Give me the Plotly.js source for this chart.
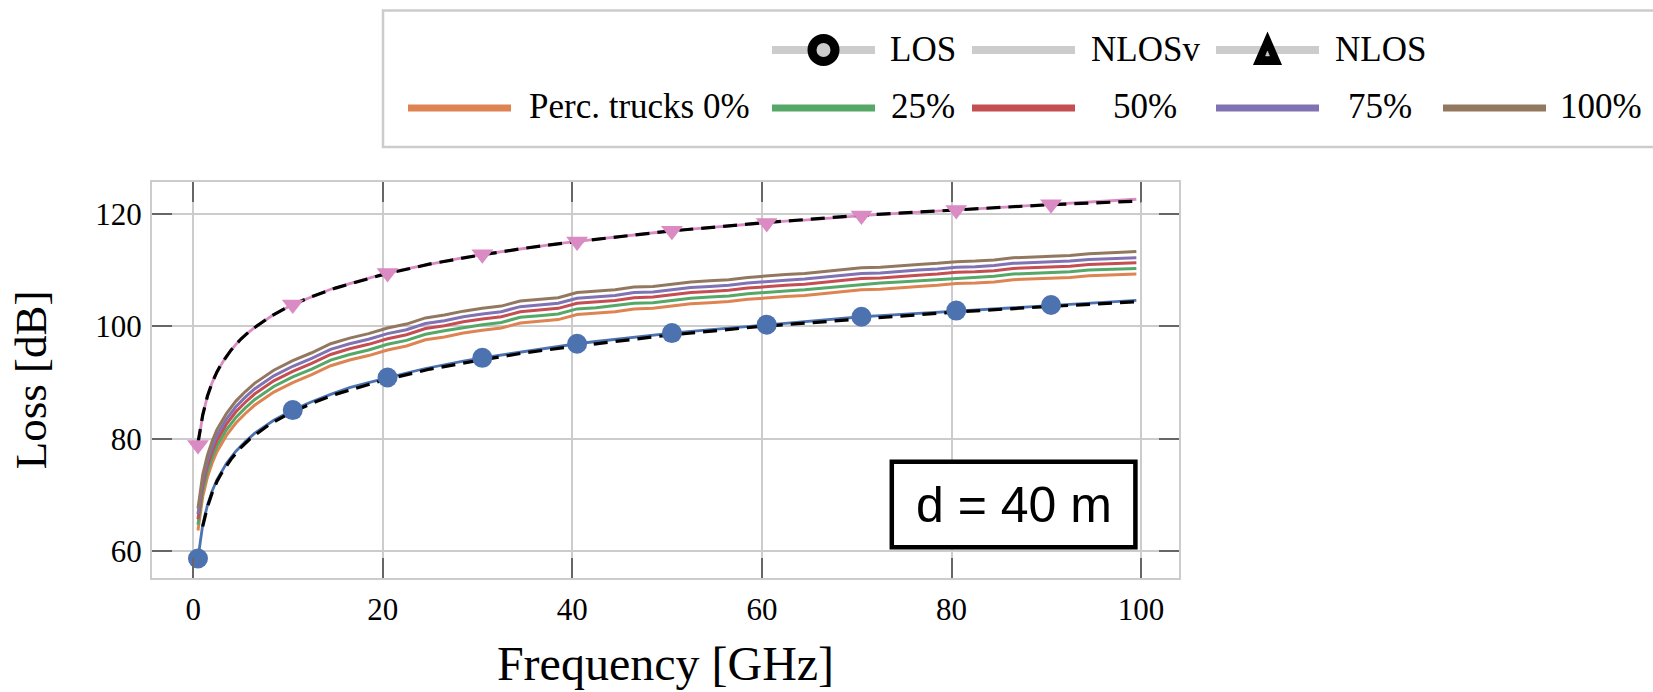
<!DOCTYPE html>
<html>
<head>
<meta charset="utf-8">
<script src="https://cdn.plot.ly/plotly-3.0.1.min.js"></script>
<style>
  html, body { margin: 0; padding: 0; background: #ffffff; }
  #chart { width: 1653px; height: 692px; }
</style>
</head>
<body>
<div id="chart"></div>
<script>
// Frequency grid (GHz) shared by the simulated curves
const freqGHz = [0.5, 1, 1.5, 2, 2.5, 3.5, 4.5, 5.5, 6.5, 7.5, 8.5,
  10.5, 12.5, 14.5, 16.5, 18.5, 20.5, 22.5, 24.5, 26.5, 28.5, 30.5, 32.5, 34.5, 36.5, 38.5,
  40.5, 42.5, 44.5, 46.5, 48.5, 50.5, 52.5, 54.5, 56.5, 58.5, 60.5, 62.5, 64.5, 66.5, 68.5,
  70.5, 72.5, 74.5, 76.5, 78.5, 80.5, 82.5, 84.5, 86.5, 88.5, 90.5, 92.5, 94.5, 96.5, 98.5, 99.5];

// LOS path loss (dB)
const lossLOS = [58.7, 64.7, 68.2, 70.7, 72.7, 75.6, 77.8, 79.5, 81.0, 82.2, 83.3,
  85.1, 86.6, 87.9, 89.1, 90.0, 90.9, 91.7, 92.5, 93.2, 93.8, 94.4, 94.9, 95.5, 96.0, 96.4,
  96.9, 97.3, 97.7, 98.1, 98.4, 98.8, 99.1, 99.4, 99.7, 100.0, 100.3, 100.6, 100.9, 101.2, 101.4,
  101.7, 101.9, 102.1, 102.4, 102.6, 102.8, 103.0, 103.2, 103.4, 103.6, 103.8, 104.0, 104.2, 104.4, 104.6, 104.6];

// NLOS path loss (dB)
const lossNLOS = [78.9, 84.2, 87.6, 90.0, 91.9, 94.7, 96.8, 98.5, 99.8, 101.0, 102.1,
  103.9, 105.3, 106.6, 107.6, 108.6, 109.5, 110.2, 110.9, 111.6, 112.2, 112.8, 113.3, 113.8, 114.3, 114.7,
  115.1, 115.5, 115.9, 116.3, 116.6, 117.0, 117.3, 117.6, 117.9, 118.2, 118.4, 118.7, 118.9, 119.2, 119.4,
  119.7, 119.9, 120.1, 120.3, 120.5, 120.7, 120.9, 121.1, 121.3, 121.5, 121.7, 121.9, 122.1, 122.3, 122.5, 122.6];

// NLOSv path loss (dB) for each truck percentage
const lossTrucks0 = [63.7, 69.7, 73.2, 75.7, 77.7, 80.6, 82.8, 84.5, 86.0, 87.2, 88.3,
  90.0, 91.4, 93.0, 94.0, 94.8, 95.8, 96.5, 97.6, 98.1, 98.8, 99.3, 99.7, 100.6, 100.9, 101.2,
  102.1, 102.3, 102.6, 103.1, 103.2, 103.6, 104.0, 104.2, 104.4, 104.8, 105.1, 105.3, 105.5, 105.8, 106.2,
  106.5, 106.6, 106.9, 107.1, 107.3, 107.6, 107.7, 107.9, 108.3, 108.4, 108.5, 108.7, 109.0, 109.1, 109.3, 109.3];
const lossTrucks25 = [64.7, 70.7, 74.2, 76.7, 78.7, 81.6, 83.8, 85.5, 87.0, 88.2, 89.3,
  91.0, 92.4, 94.0, 95.0, 95.8, 96.8, 97.5, 98.6, 99.2, 99.8, 100.3, 100.7, 101.6, 101.9, 102.2,
  103.1, 103.3, 103.7, 104.1, 104.2, 104.6, 105.0, 105.2, 105.4, 105.8, 106.1, 106.3, 106.5, 106.8, 107.2,
  107.5, 107.7, 107.9, 108.1, 108.3, 108.6, 108.7, 108.9, 109.3, 109.4, 109.5, 109.7, 110.0, 110.1, 110.3, 110.3];
const lossTrucks50 = [65.7, 71.7, 75.2, 77.7, 79.7, 82.6, 84.8, 86.5, 88.0, 89.2, 90.3,
  92.0, 93.4, 95.0, 96.0, 96.8, 97.8, 98.5, 99.6, 100.1, 100.8, 101.3, 101.7, 102.6, 102.9, 103.2,
  104.1, 104.3, 104.6, 105.1, 105.2, 105.6, 106.0, 106.2, 106.4, 106.8, 107.1, 107.3, 107.5, 107.8, 108.2,
  108.5, 108.6, 108.9, 109.1, 109.3, 109.6, 109.7, 109.9, 110.3, 110.4, 110.5, 110.7, 111.0, 111.1, 111.3, 111.3];
const lossTrucks75 = [66.6, 72.6, 76.1, 78.6, 80.6, 83.5, 85.7, 87.4, 88.9, 90.1, 91.2,
  92.9, 94.3, 95.9, 96.9, 97.7, 98.7, 99.4, 100.5, 101.0, 101.7, 102.2, 102.6, 103.5, 103.8, 104.1,
  105.0, 105.2, 105.5, 106.0, 106.1, 106.5, 106.9, 107.1, 107.3, 107.7, 108.0, 108.2, 108.4, 108.7, 109.1,
  109.4, 109.5, 109.8, 110.0, 110.2, 110.5, 110.6, 110.8, 111.2, 111.3, 111.4, 111.6, 111.9, 112.0, 112.2, 112.2];
const lossTrucks100 = [67.6, 73.6, 77.1, 79.6, 81.6, 84.5, 86.7, 88.4, 89.9, 91.1, 92.2,
  93.9, 95.3, 96.9, 97.9, 98.7, 99.7, 100.4, 101.5, 102.0, 102.7, 103.2, 103.6, 104.5, 104.8, 105.1,
  106.0, 106.2, 106.5, 107.0, 107.1, 107.5, 107.9, 108.1, 108.3, 108.7, 109.0, 109.2, 109.4, 109.7, 110.1,
  110.4, 110.5, 110.8, 111.0, 111.2, 111.5, 111.6, 111.8, 112.2, 112.3, 112.4, 112.6, 112.9, 113.0, 113.2, 113.3];

// Marker positions (every 10 GHz)
const markFreqGHz = [0.5, 10.5, 20.5, 30.5, 40.5, 50.5, 60.5, 70.5, 80.5, 90.5];
const markLOS = [58.7, 85.1, 90.9, 94.4, 96.9, 98.8, 100.3, 101.7, 102.8, 103.8];
const markNLOS = [78.9, 103.9, 109.5, 112.8, 115.1, 117.0, 118.4, 119.7, 120.7, 121.7];

// Reference model curves (dashed)
const fitFreqLOS = [1, 1.5, 2, 2.5, 3, 4, 5, 6, 8, 10, 12.5, 15, 20, 25, 30, 35, 40, 50, 60, 70, 80, 90, 100];
const fitLOS = [64.4, 67.9, 70.4, 72.4, 73.9, 76.4, 78.4, 80.0, 82.5, 84.4, 86.3, 87.9, 90.4, 92.4, 93.9, 95.3, 96.4, 98.4, 100.0, 101.3, 102.5, 103.5, 104.4];
const fitFreqNLOS = [0.5, 1, 1.5, 2, 2.5, 3, 4, 5, 6, 8, 10, 12.5, 15, 20, 25, 30, 35, 40, 50, 60, 70, 80, 90, 100];
const fitNLOS = [79.3, 84.2, 87.6, 90.0, 91.9, 93.4, 95.8, 97.7, 99.2, 101.6, 103.5, 105.3, 106.8, 109.2, 111.1, 112.6, 113.9, 115.0, 116.9, 118.4, 119.7, 120.7, 121.6, 122.3];

// Labels and ticks
const truckLabels = ['Perc. trucks 0%', '25%', '50%', '75%', '100%'];
const scenarioLabels = ['LOS', 'NLOSv', 'NLOS'];
const xTicks = [0, 20, 40, 60, 80, 100];
const yTicks = [60, 80, 100, 120];
const distanceLabel = 'd = 40 m';

// Styling
const truckColors = ['#dd8452', '#55a868', '#c44e52', '#8172b3', '#937860'];
const losColor = '#4c72b0';
const nlosColor = '#da8bc3';
const serif = 'Liberation Serif, Times New Roman, serif';

const truckSeries = [lossTrucks0, lossTrucks25, lossTrucks50, lossTrucks75, lossTrucks100];

const traces = [];
truckSeries.forEach((ys, i) => {
  traces.push({
    x: freqGHz, y: ys, type: 'scatter', mode: 'lines', name: truckLabels[i],
    line: { color: truckColors[i], width: 3 }, showlegend: false, hoverinfo: 'skip'
  });
});
traces.push({ x: freqGHz, y: lossLOS, type: 'scatter', mode: 'lines', name: 'LOS',
  line: { color: losColor, width: 2.8 }, showlegend: false });
traces.push({ x: freqGHz, y: lossNLOS, type: 'scatter', mode: 'lines', name: 'NLOS',
  line: { color: nlosColor, width: 2.8 }, showlegend: false });
traces.push({ x: fitFreqLOS, y: fitLOS, type: 'scatter', mode: 'lines', name: 'LOS model',
  line: { color: '#000000', width: 3.2, dash: '14px,8px' }, showlegend: false });
traces.push({ x: fitFreqNLOS, y: fitNLOS, type: 'scatter', mode: 'lines', name: 'NLOS model',
  line: { color: '#000000', width: 3.2, dash: '14px,8px' }, showlegend: false });
traces.push({ x: markFreqGHz, y: markLOS, type: 'scatter', mode: 'markers', name: 'LOS',
  marker: { color: losColor, size: 20, symbol: 'circle', line: { width: 0 } }, showlegend: false });
traces.push({ x: markFreqGHz, y: markNLOS, type: 'scatter', mode: 'markers', name: 'NLOS',
  marker: { color: nlosColor, size: 19, symbol: 'triangle-down', line: { width: 0 } }, showlegend: false });

// Plot-area geometry in page pixels
const W = 1653, H = 692;
const L = 152, R = 1179, T = 182, B = 578;
const px = X => (X - L) / (R - L);
const py = Y => (B - Y) / (B - T);

const shapes = [];
const annotations = [];

// Legend frame
shapes.push({ type: 'rect', xref: 'paper', yref: 'paper',
  x0: px(383), x1: px(1668), y0: py(147), y1: py(10.5),
  line: { color: '#cccccc', width: 2.5 }, fillcolor: 'rgba(0,0,0,0)', layer: 'above' });

// Legend columns: line start (page px) and text centre
const colLineX = [408, 772, 972, 1216, 1443];
const colTextX = [639.5, 923, 1145, 1380, 1601];
const lineLen = 103;
const row1Y = 50, row2Y = 108;

function legendLine(col, Y, color, width) {
  shapes.push({ type: 'line', xref: 'paper', yref: 'paper',
    x0: px(colLineX[col]), x1: px(colLineX[col] + lineLen), y0: py(Y), y1: py(Y),
    line: { color: color, width: width }, layer: 'above' });
}
function legendText(col, Y, text) {
  annotations.push({ xref: 'paper', yref: 'paper', x: px(colTextX[col]), y: py(Y),
    xanchor: 'center', yanchor: 'middle', showarrow: false, text: text,
    font: { family: serif, size: 35, color: '#000000' } });
}

// Row 1: scenarios (columns 2-4)
scenarioLabels.forEach((lab, k) => {
  legendLine(k + 1, row1Y, '#cccccc', 8);
  legendText(k + 1, row1Y - 1, lab);
});
// LOS symbol: ring
shapes.push({ type: 'circle', xref: 'paper', yref: 'paper',
  xsizemode: 'pixel', ysizemode: 'pixel',
  xanchor: px(colLineX[1] + lineLen / 2), yanchor: py(row1Y),
  x0: -11.5, x1: 11.5, y0: -11.5, y1: 11.5,
  fillcolor: '#cccccc', line: { color: '#000000', width: 9 }, layer: 'above' });
// NLOS symbol: triangle
shapes.push({ type: 'path', xref: 'paper', yref: 'paper',
  xsizemode: 'pixel', ysizemode: 'pixel',
  xanchor: px(colLineX[3] + lineLen / 2), yanchor: py(row1Y),
  path: 'M -13 -14 L 13 -14 L 0 16 Z',
  fillcolor: '#000000', line: { color: '#000000', width: 2 }, layer: 'above' });
shapes.push({ type: 'path', xref: 'paper', yref: 'paper',
  xsizemode: 'pixel', ysizemode: 'pixel',
  xanchor: px(colLineX[3] + lineLen / 2), yanchor: py(row1Y),
  path: 'M -2 -6 L 2 -6 L 0 -1 Z',
  fillcolor: '#cccccc', line: { color: '#cccccc', width: 0.5 }, layer: 'above' });

// Row 2: truck percentages
truckLabels.forEach((lab, i) => {
  legendLine(i, row2Y, truckColors[i], 7);
  legendText(i, row2Y - 2, lab);
});

// Distance box
shapes.push({ type: 'rect', xref: 'x', yref: 'y', x0: 73.7, x1: 99.4, y0: 60.7, y1: 75.9,
  fillcolor: '#ffffff', line: { color: '#000000', width: 4.5 }, layer: 'above' });
annotations.push({ xref: 'x', yref: 'y', x: 86.55, y: 68.3, xanchor: 'center', yanchor: 'middle',
  showarrow: false, text: distanceLabel,
  font: { family: 'Liberation Sans, Arial, sans-serif', size: 50, color: '#000000' } });

const axisCommon = {
  showline: true, linecolor: '#cccccc', linewidth: 2, mirror: 'ticks',
  showgrid: true, gridcolor: '#cccccc', gridwidth: 2, zeroline: false,
  ticks: 'inside', ticklen: 20, tickwidth: 2, tickcolor: '#666666',
  tickfont: { family: serif, size: 31, color: '#000000' }
};

const layout = {
  width: W, height: H,
  margin: { l: L, r: W - R, t: T, b: H - B, pad: 0 },
  paper_bgcolor: '#ffffff', plot_bgcolor: '#ffffff',
  showlegend: false,
  xaxis: Object.assign({}, axisCommon, {
    range: [-4.35, 104.0], tickmode: 'array', tickvals: xTicks, ticktext: xTicks.map(String),
    ticklabelstandoff: 3,
    title: { text: 'Frequency [GHz]', font: { family: serif, size: 48, color: '#000000' }, standoff: 20 }
  }),
  yaxis: Object.assign({}, axisCommon, {
    range: [55.24, 125.67], tickmode: 'array', tickvals: yTicks, ticktext: yTicks.map(String),
    ticklabelstandoff: 2,
    title: { text: 'Loss [dB]', font: { family: serif, size: 45, color: '#000000' }, standoff: 35 }
  }),
  shapes: shapes,
  annotations: annotations
};

Plotly.newPlot('chart', traces, layout, { displayModeBar: false, staticPlot: true });
</script>
</body>
</html>
